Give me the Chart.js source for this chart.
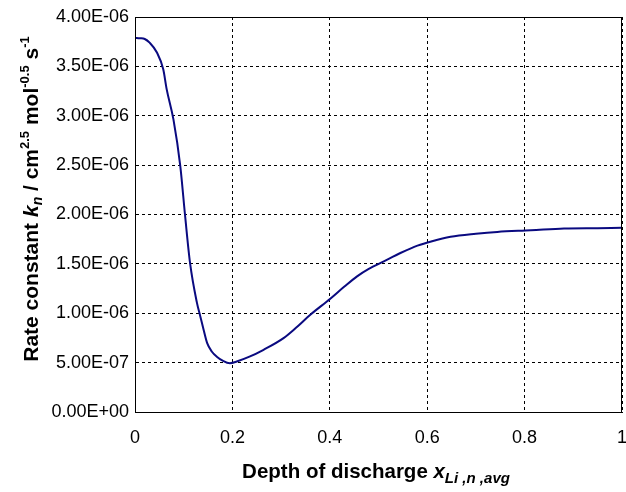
<!DOCTYPE html>
<html>
<head>
<meta charset="utf-8">
<script src="https://cdn.jsdelivr.net/npm/chart.js@4/dist/chart.umd.min.js"></script>
<style>
  html, body { margin: 0; padding: 0; background: #fff; }
  #wrap { width: 626px; height: 492px; }
</style>
</head>
<body>
<div id="wrap"><canvas id="rateChart"></canvas></div>
<script>
// depth of discharge (x) and rate constant (y)
var depth = [0, 0.01, 0.02, 0.03, 0.045, 0.058, 0.065, 0.079, 0.093, 0.103,
  0.113, 0.127, 0.134, 0.141, 0.148, 0.158, 0.168, 0.18, 0.195, 0.209,
  0.235, 0.264, 0.305, 0.33, 0.36, 0.401, 0.43, 0.456, 0.48, 0.511,
  0.545, 0.58, 0.61, 0.648, 0.7, 0.744, 0.813, 0.881, 0.95, 1.0];
var rate = [3.79e-6, 3.785e-6, 3.777e-6, 3.74e-6, 3.64e-6, 3.47e-6, 3.27e-6, 2.96e-6, 2.49e-6, 1.98e-6,
  1.51e-6, 1.11e-6, 0.97e-6, 0.83e-6, 0.70e-6, 0.61e-6, 0.56e-6, 0.52e-6, 0.494e-6, 0.511e-6,
  0.56e-6, 0.63e-6, 0.748e-6, 0.85e-6, 0.985e-6, 1.147e-6, 1.27e-6, 1.374e-6, 1.45e-6, 1.526e-6,
  1.61e-6, 1.685e-6, 1.73e-6, 1.774e-6, 1.805e-6, 1.824e-6, 1.84e-6, 1.858e-6, 1.862e-6, 1.865e-6];

var xTickValues = [0, 0.2, 0.4, 0.6, 0.8, 1];
var xTickLabels = ['0', '0.2', '0.4', '0.6', '0.8', '1'];
var yTickValues = [0, 5e-7, 1e-6, 1.5e-6, 2e-6, 2.5e-6, 3e-6, 3.5e-6, 4e-6];
var yTickLabels = ['0.00E+00', '5.00E-07', '1.00E-06', '1.50E-06', '2.00E-06',
  '2.50E-06', '3.00E-06', '3.50E-06', '4.00E-06'];

var points = [];
for (var i = 0; i < depth.length; i++) {
  points.push({x: depth[i], y: rate[i]});
}

var FONT = '"Liberation Sans", Arial, sans-serif';

// draws a row of text pieces (sub/superscripts) centred on cx
function drawRich(ctx, parts, cx, cy) {
  var total = 0;
  parts.forEach(function(p) {
    ctx.font = p.f;
    p.w = ctx.measureText(p.t).width;
    total += p.w;
  });
  var x = cx - total / 2;
  ctx.textBaseline = 'alphabetic';
  ctx.textAlign = 'left';
  parts.forEach(function(p) {
    ctx.font = p.f;
    ctx.fillText(p.t, x, cy + (p.dy || 0));
    x += p.w;
  });
}

var titles = {
  id: 'titles',
  afterDraw: function(chart) {
    var ctx = chart.ctx;
    var a = chart.chartArea;
    ctx.save();
    ctx.strokeStyle = '#000';
    ctx.lineWidth = 1;
    ctx.setLineDash([]);
    ctx.strokeRect(Math.round(a.left) + 0.5, Math.round(a.top) + 0.5,
      Math.round(a.right - a.left) - 1, Math.round(a.bottom - a.top));
    ctx.fillStyle = '#000';

    var S = 'bold 13px ' + FONT;
    var SI = 'bold italic 14px ' + FONT;

    drawRich(ctx, [
      {t: 'Depth of discharge ', f: 'bold 20.5px ' + FONT},
      {t: 'x', f: 'bold italic 20.5px ' + FONT},
      {t: 'Li ,n ,avg', f: 'bold italic 15px ' + FONT, dy: 5}
    ], 376, 478);

    var B = 'bold 21px ' + FONT;
    var BI = 'bold italic 21px ' + FONT;
    ctx.translate(38, 199);
    ctx.rotate(-Math.PI / 2);
    drawRich(ctx, [
      {t: 'Rate constant ', f: B},
      {t: 'k', f: BI},
      {t: 'n', f: SI, dy: 4},
      {t: ' / cm', f: B},
      {t: '2.5', f: S, dy: -9},
      {t: ' mol', f: B},
      {t: '-0.5', f: S, dy: -9},
      {t: ' s', f: B},
      {t: '-1', f: S, dy: -9}
    ], 0, 0);
    ctx.restore();
  }
};

new Chart(document.getElementById('rateChart'), {
  type: 'scatter',
  data: {
    datasets: [{
      data: points,
      showLine: true,
      borderColor: '#0a0a80',
      borderWidth: 2,
      pointRadius: 0,
      tension: 0.3,
      cubicInterpolationMode: 'monotone'
    }]
  },
  options: {
    responsive: true,
    maintainAspectRatio: false,
    animation: false,
    layout: { padding: { top: 17, right: 4, left: 0, bottom: 0 } },
    plugins: { legend: { display: false }, tooltip: { enabled: false } },
    scales: {
      x: {
        type: 'linear',
        min: 0, max: 1,
        afterBuildTicks: function(s) { s.ticks = xTickValues.map(function(v) { return {value: v}; }); },
        afterFit: function(s) { s.height = 80; s.paddingLeft = 0; s.paddingRight = 0; },
        ticks: {
          color: '#000',
          font: { family: FONT, size: 18 },
          padding: 15,
          maxRotation: 0,
          callback: function(v, i) { return xTickLabels[i]; }
        },
        grid: { color: '#000', lineWidth: 1, drawTicks: false },
        border: { color: '#000', width: 1, dash: [3, 3] }
      },
      y: {
        min: 0, max: 4e-6,
        afterBuildTicks: function(s) { s.ticks = yTickValues.map(function(v) { return {value: v}; }); },
        afterFit: function(s) { s.width = 135; s.paddingTop = 0; s.paddingBottom = 0; },
        ticks: {
          color: '#000',
          font: { family: FONT, size: 18 },
          padding: 6,
          callback: function(v, i) { return yTickLabels[i]; }
        },
        grid: { color: '#000', lineWidth: 1, drawTicks: false },
        border: { color: '#000', width: 1, dash: [3, 3] }
      }
    }
  },
  plugins: [titles]
});
</script>
</body>
</html>
